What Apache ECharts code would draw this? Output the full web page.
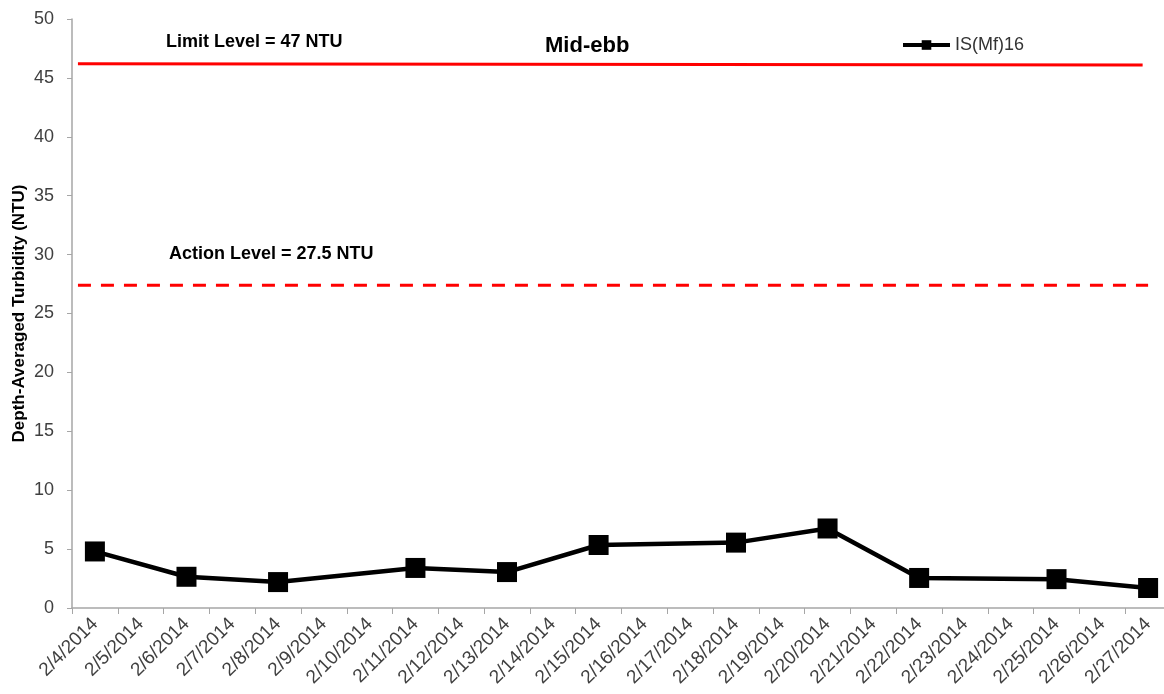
<!DOCTYPE html>
<html>
<head>
<meta charset="utf-8">
<script src="https://cdn.jsdelivr.net/npm/echarts@6/dist/echarts.min.js"></script>
<style>html,body{margin:0;padding:0;background:#fff;}#c{width:1164px;height:694px;}</style>
</head>
<body>
<div id="c"></div>
<script>
var categories = ['2/4/2014','2/5/2014','2/6/2014','2/7/2014','2/8/2014','2/9/2014','2/10/2014','2/11/2014','2/12/2014','2/13/2014','2/14/2014','2/15/2014','2/16/2014','2/17/2014','2/18/2014','2/19/2014','2/20/2014','2/21/2014','2/22/2014','2/23/2014','2/24/2014','2/25/2014','2/26/2014','2/27/2014'];
var turbidity = [4.8,null,2.65,null,2.2,null,null,3.4,null,3.05,null,5.35,null,null,5.55,null,6.75,null,2.55,null,null,2.45,null,1.7];
var seriesName = 'IS(Mf)16';
var limitX = [0.13, 23.38];
var limitY = [46.2, 46.1];
var actionX = [0.13, 23.5];
var actionY = [27.4, 27.4];
var yTicks = {min:0, max:50, interval:5};

var font = 'Liberation Sans, Arial, sans-serif';
var chart = echarts.init(document.getElementById('c'));
chart.setOption({
  animation:false,
  backgroundColor:'#fff',
  grid:{left:72, width:1099, top:19, bottom:86, outerBoundsMode:'none', containLabel:false},
  legend:{
    data:[seriesName], left:901, top:36, padding:0, itemWidth:47, itemHeight:12, itemGap:5,
    lineStyle:{width:4},
    textStyle:{fontFamily:font, fontSize:18, color:'#333'}
  },
  xAxis:[{
    type:'category', data:categories, boundaryGap:true,
    axisLine:{lineStyle:{color:'#a6a6a6', width:1.5}},
    axisTick:{show:true, length:6, lineStyle:{color:'#a6a6a6'}},
    axisLabel:{rotate:45, interval:0, margin:13, fontFamily:font, fontSize:19, color:'#404040'}
  },{
    type:'value', min:0, max:24, show:false
  }],
  yAxis:{
    type:'value', min:yTicks.min, max:yTicks.max, interval:yTicks.interval,
    name:'Depth-Averaged Turbidity (NTU)', nameLocation:'middle', nameGap:44, nameMoveOverlap:false,
    nameTextStyle:{fontFamily:font, fontSize:17, fontWeight:'bold', color:'#000'},
    axisLine:{show:true, lineStyle:{color:'#a6a6a6', width:1.5}},
    axisTick:{show:true, length:5, lineStyle:{color:'#a6a6a6'}},
    splitLine:{show:false},
    axisLabel:{margin:18, fontFamily:font, fontSize:18, color:'#404040'}
  },
  graphic:[
    {type:'text', left:166, top:33, style:{text:'Limit Level = 47 NTU', font:'bold 18px '+font, fill:'#000'}},
    {type:'text', left:545, top:35, style:{text:'Mid-ebb', font:'bold 22px '+font, fill:'#000'}},
    {type:'text', left:169, top:245, style:{text:'Action Level = 27.5 NTU', font:'bold 18px '+font, fill:'#000'}}
  ],
  series:[
    {
      name:'limit', type:'line', xAxisIndex:1, symbol:'none', silent:true,
      data:limitX.map(function(x,i){return [x, limitY[i]];}),
      lineStyle:{color:'#ff0000', width:3}
    },
    {
      name:'action', type:'line', xAxisIndex:1, symbol:'none', silent:true,
      data:actionX.map(function(x,i){return [x, actionY[i]];}),
      lineStyle:{color:'#ff0000', width:3, type:[13,10]}
    },
    {
      name:seriesName, type:'line', data:turbidity, connectNulls:true,
      symbol:'rect', symbolSize:20,
      itemStyle:{color:'#000'},
      lineStyle:{color:'#000', width:4.5}
    }
  ]
});
</script>
</body>
</html>
